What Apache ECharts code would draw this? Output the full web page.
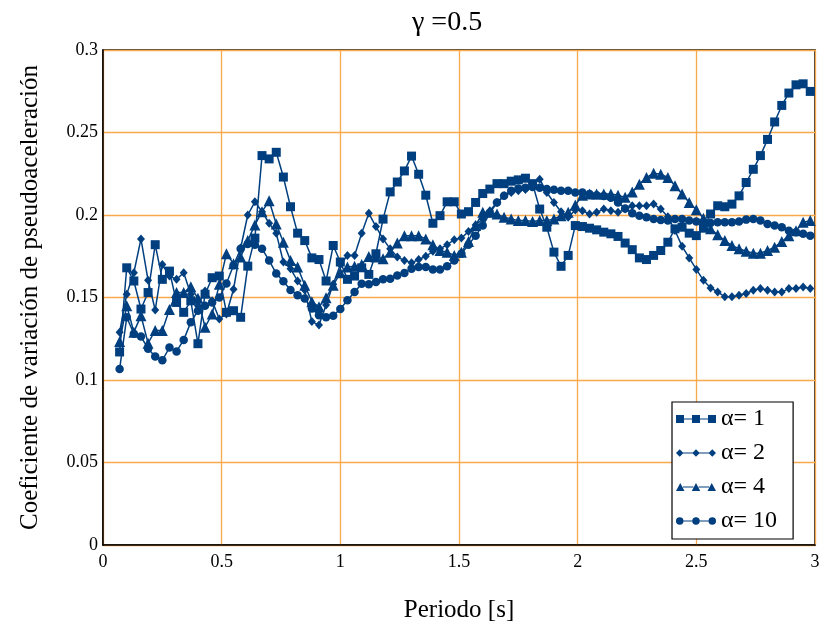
<!DOCTYPE html>
<html>
<head>
<meta charset="utf-8">
<script src="https://cdn.jsdelivr.net/npm/echarts@6/dist/echarts.min.js"></script>
<style>html,body{margin:0;padding:0;background:#fff}#c{width:825px;height:628px}</style>
</head>
<body>
<div id="c"></div>
<script>
const periods = [
0.07,0.10,0.13,0.16,0.19,0.22,0.25,0.28,0.31,0.34,
0.37,0.40,0.43,0.46,0.49,0.52,0.55,0.58,0.61,0.64,
0.67,0.70,0.73,0.76,0.79,0.82,0.85,0.88,0.91,0.94,
0.97,1.00,1.03,1.06,1.09,1.12,1.15,1.18,1.21,1.24,
1.27,1.30,1.33,1.36,1.39,1.42,1.45,1.48,1.51,1.54,
1.57,1.60,1.63,1.66,1.69,1.72,1.75,1.78,1.81,1.84,
1.87,1.90,1.93,1.96,1.99,2.02,2.05,2.08,2.11,2.14,
2.17,2.20,2.23,2.26,2.29,2.32,2.35,2.38,2.41,2.44,
2.47,2.50,2.53,2.56,2.59,2.62,2.65,2.68,2.71,2.74,
2.77,2.80,2.83,2.86,2.89,2.92,2.95,2.98];

const alpha1 = [
0.117,0.168,0.160,0.143,0.153,0.182,0.161,0.166,0.147,0.141,
0.148,0.122,0.152,0.162,0.163,0.141,0.142,0.138,0.169,0.186,
0.236,0.234,0.238,0.223,0.205,0.189,0.1845,0.174,0.173,0.160,
0.1815,0.1715,0.161,0.163,0.168,0.164,0.1765,0.1975,0.214,0.220,
0.2267,0.2357,0.2247,0.212,0.195,0.1996,0.208,0.208,0.2006,0.202,
0.2076,0.213,0.2157,0.219,0.219,0.2205,0.2213,0.2223,0.219,0.2036,
0.1926,0.1775,0.1689,0.1755,0.1936,0.193,0.192,0.191,0.1896,0.1886,
0.187,0.183,0.179,0.174,0.173,0.1755,0.1785,0.1835,0.1916,0.1926,
0.189,0.1875,0.192,0.2006,0.2056,0.205,0.2066,0.2116,0.2197,0.2277,
0.236,0.2458,0.2564,0.2664,0.2739,0.2789,0.2795,0.2749];

const alpha2 = [
0.129,0.152,0.165,0.1855,0.1604,0.1424,0.170,0.163,0.161,0.165,
0.152,0.145,0.154,0.148,0.137,0.140,0.155,0.180,0.200,0.208,
0.202,0.195,0.189,0.1715,0.1675,0.160,0.1545,0.1354,0.1333,0.1454,
0.158,0.170,0.1755,0.1755,0.189,0.201,0.193,0.1855,0.1795,0.1745,
0.1725,0.171,0.173,0.175,0.178,0.1795,0.182,0.185,0.186,0.190,
0.194,0.1976,0.2026,0.2076,0.2116,0.2136,0.2147,0.2155,0.218,0.2217,
0.2136,0.2076,0.202,0.1986,0.203,0.2026,0.2006,0.2016,0.2036,0.2026,
0.2016,0.2036,0.2056,0.2056,0.2056,0.2066,0.2036,0.199,0.1906,0.181,
0.174,0.167,0.1604,0.1558,0.1534,0.1504,0.1504,0.1514,0.1524,0.1544,
0.1554,0.1544,0.1534,0.1534,0.1554,0.1554,0.1564,0.1554];

const alpha4 = [
0.1233,0.145,0.129,0.139,0.1223,0.130,0.130,0.1428,0.153,0.153,
0.1565,0.1495,0.132,0.140,0.158,0.1765,0.1705,0.1745,0.1845,0.194,
0.202,0.2086,0.1946,0.1835,0.1725,0.1685,0.1574,0.1474,0.1444,0.1498,
0.1574,0.165,0.1685,0.169,0.170,0.1749,0.1745,0.1735,0.1775,0.183,
0.1875,0.1875,0.1875,0.1855,0.182,0.1785,0.1775,0.1755,0.1775,0.184,
0.1936,0.2016,0.2016,0.2006,0.1986,0.1976,0.1966,0.1966,0.196,0.1966,
0.1966,0.1976,0.1996,0.2016,0.206,0.212,0.2127,0.2127,0.2127,0.2127,
0.212,0.2107,0.214,0.2187,0.2227,0.2253,0.2247,0.2227,0.2177,0.2127,
0.2076,0.2032,0.198,0.1916,0.188,0.1845,0.1815,0.1795,0.178,0.1768,
0.1768,0.1785,0.1805,0.1839,0.1875,0.1905,0.1956,0.1966];

const alpha10 = [
0.1066,0.138,0.128,0.1263,0.119,0.1143,0.1119,0.1197,0.1173,0.1243,
0.135,0.142,0.145,0.147,0.150,0.1585,0.1695,0.1795,0.1825,0.1819,
0.1795,0.1725,0.1645,0.1598,0.1545,0.1514,0.1494,0.1434,0.1393,0.138,
0.139,0.143,0.1484,0.1534,0.1584,0.158,0.1594,0.161,0.1614,0.1634,
0.1649,0.1675,0.1685,0.1685,0.1669,0.1669,0.1689,0.1725,0.1765,0.182,
0.1875,0.1936,0.201,0.2076,0.2116,0.2147,0.216,0.2165,0.217,0.2165,
0.2157,0.2153,0.2147,0.2147,0.2137,0.2137,0.2127,0.212,0.2115,0.2105,
0.2076,0.204,0.201,0.1996,0.1986,0.1976,0.197,0.1966,0.1976,0.1976,
0.1966,0.196,0.1956,0.1952,0.1956,0.1956,0.1956,0.196,0.1972,0.1976,
0.1966,0.1946,0.1936,0.1926,0.1905,0.1896,0.1886,0.1875];

const seriesNames = ['α= 1', 'α= 2', 'α= 4', 'α= 10'];
const xTicks = [0, 0.5, 1, 1.5, 2, 2.5, 3];
const yTicks = [0, 0.05, 0.1, 0.15, 0.2, 0.25, 0.3];

const BLUE = '#003F7F';
const GRIDC = '#F9A94B';
const FONT = "'Liberation Serif', 'Times New Roman', serif";

function pairs(ys) { return periods.map((x, i) => [x, ys[i]]); }

// legend icons: three markers joined by a thin line (segments between markers only)
const seg = 'M20 10.5L52 10.5L52 13.5L20 13.5Z M68 10.5L100 10.5L100 13.5L68 13.5Z ';
const icons = [
  'path://' + seg + 'M0 0L24 0L24 24L0 24Z M48 0L72 0L72 24L48 24Z M96 0L120 0L120 24L96 24Z',
  'path://' + seg + 'M12 1L23 12L12 23L1 12Z M60 1L71 12L60 23L49 12Z M108 1L119 12L108 23L97 12Z',
  'path://' + seg + 'M12 0L25 24L-1 24Z M60 0L73 24L47 24Z M108 0L121 24L95 24Z',
  'path://' + seg + 'M1 12A11 11 0 1 1 23 12A11 11 0 1 1 1 12Z M49 12A11 11 0 1 1 71 12A11 11 0 1 1 49 12Z M97 12A11 11 0 1 1 119 12A11 11 0 1 1 97 12Z'
];
const symbols = ['rect', 'diamond', 'triangle', 'circle'];
const sizes = [9, [8, 9], 11, 8.5];
const datasets = [alpha1, alpha2, alpha4, alpha10];

const chart = echarts.init(document.getElementById('c'), null, {renderer: 'canvas'});
chart.setOption({
  animation: false,
  backgroundColor: '#fff',
  title: {
    text: 'γ =0.5',
    left: 407, top: 4,
    textStyle: {fontFamily: FONT, fontSize: 28, fontWeight: 'normal', color: '#000'}
  },
  grid: {left: 103, right: 10, top: 50, bottom: 80, show: true, borderColor: '#000', borderWidth: 1.5, containLabel: false},
  legend: {
    orient: 'vertical', left: 672, top: 402,
    padding: [5, 16, 6, 4], itemGap: 10, itemWidth: 40, itemHeight: 8,
    borderColor: '#000', borderWidth: 1.2, backgroundColor: '#fff',
    textStyle: {fontFamily: FONT, fontSize: 24, color: '#000', lineHeight: 22},
    data: seriesNames.map((n, k) => ({name: n, icon: icons[k]}))
  },
  xAxis: {
    type: 'value', min: xTicks[0], max: xTicks[xTicks.length - 1], interval: 0.5,
    name: 'Periodo [s]', nameLocation: 'middle', nameGap: 53,
    nameTextStyle: {fontFamily: FONT, fontSize: 25, color: '#000'},
    axisLine: {show: true, lineStyle: {color: '#000', width: 1.5}},
    axisTick: {show: false},
    axisLabel: {fontFamily: FONT, fontSize: 18, color: '#000', margin: 8},
    splitLine: {show: true, lineStyle: {color: GRIDC, width: 1.3}}
  },
  yAxis: {
    type: 'value', min: yTicks[0], max: yTicks[yTicks.length - 1], interval: 0.05,
    name: 'Coeficiente de variación de pseudoaceleración', nameLocation: 'middle', nameGap: 60,
    nameTextStyle: {fontFamily: FONT, fontSize: 25, color: '#000'},
    axisLine: {show: true, lineStyle: {color: '#000', width: 1.5}},
    axisTick: {show: false},
    axisLabel: {fontFamily: FONT, fontSize: 18, color: '#000', margin: 5},
    splitLine: {show: true, lineStyle: {color: GRIDC, width: 1.3}}
  },
  series: datasets.map((d, k) => ({
    name: seriesNames[k], type: 'line', data: pairs(d),
    symbol: symbols[k], symbolSize: sizes[k], showSymbol: true, showAllSymbol: true,
    lineStyle: {color: BLUE, width: 1.5},
    itemStyle: {color: BLUE, borderWidth: 0},
    emphasis: {disabled: true}, clip: false
  }))
});
</script>
</body>
</html>
